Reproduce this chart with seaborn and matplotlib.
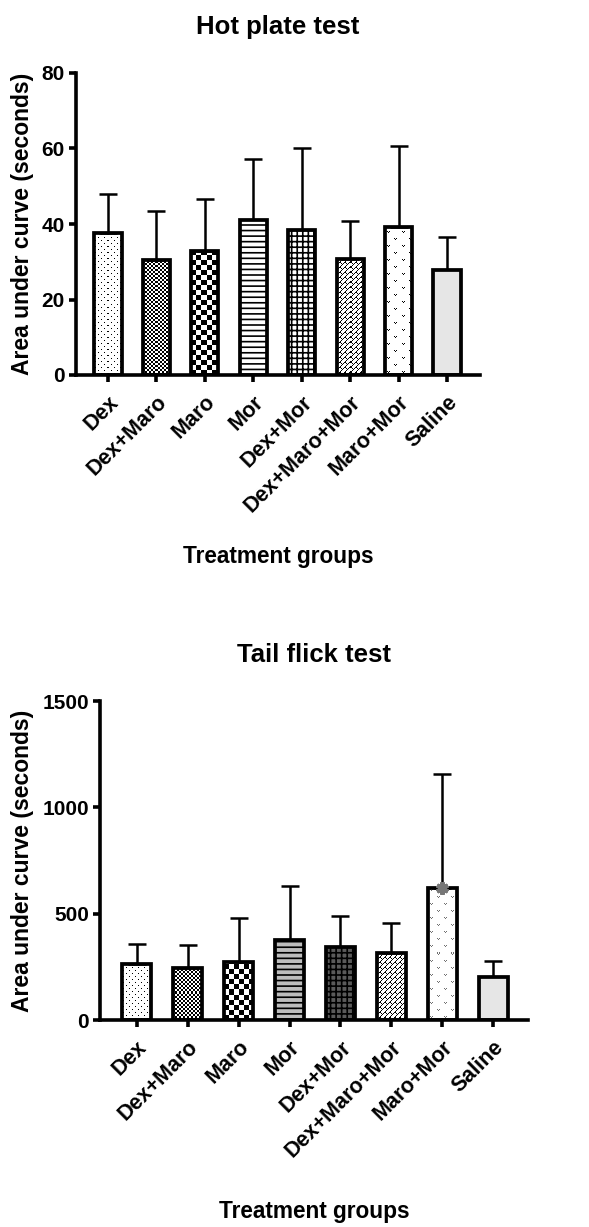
import numpy as np
import matplotlib
matplotlib.use('Agg')
import matplotlib.pyplot as plt
import matplotlib.colors as mcolors
import matplotlib.transforms as mtransforms
import seaborn as sns

# данные
groups = ['Dex', 'Dex+Maro', 'Maro', 'Mor', 'Dex+Mor', 'Dex+Maro+Mor', 'Maro+Mor', 'Saline']
hot_mean = [37.7, 30.4, 32.8, 41.0, 38.4, 30.6, 39.2, 27.9]
hot_sd = [10.3, 13.0, 13.7, 16.1, 21.7, 10.3, 21.4, 8.6]
tail_mean = [262, 246, 274, 376, 345, 313, 622, 204]
tail_sd = [95, 107, 207, 254, 145, 142, 535, 75]
hot_yticks = [0, 20, 40, 60, 80]
tail_yticks = [0, 500, 1000, 1500]

sns.set_style('ticks')
plt.rcParams['font.family'] = ['Liberation Sans', 'DejaVu Sans']
plt.rcParams['font.weight'] = 'bold'
plt.rcParams['axes.labelweight'] = 'bold'
plt.rcParams['axes.titleweight'] = 'bold'
for k in ['text.color', 'axes.labelcolor', 'xtick.color', 'ytick.color', 'axes.edgecolor']:
    plt.rcParams[k] = 'black'
plt.rcParams['hatch.linewidth'] = 1.2


# узоры-плитки (1 = цвет узора)
def checker(n):
    a = np.zeros((2 * n, 2 * n), int)
    a[:n, :n] = 1
    a[n:, n:] = 1
    return a


dots = np.zeros((6, 6), int)
dots[1, 1] = 1
dots[4, 4] = 1
vees = np.zeros((14, 14), int)
for r, c in [(2, 2), (9, 9)]:
    vees[r + 1, c] = 1
    vees[r + 1, c + 2] = 1
    vees[r, c + 1] = 1
# диагональная «кладка»
rr, cc = np.mgrid[0:10, 0:10]
bricks = (((rr - cc) % 5 == 0) | ((rr + cc) % 10 == 5 * (((rr - cc) % 10) // 5))).astype(int)

hot_style = [
    ('tile', dots, 'black', 'white'),
    ('tile', checker(2), 'black', 'white'),
    ('tile', checker(5), 'black', 'white'),
    ('hatch', '---', 'white'),
    ('hatch', '+++', 'white'),
    ('tile', bricks, 'black', 'white'),
    ('tile', vees, 'black', 'white'),
    ('hatch', '', '#e6e6e6'),
]
tail_style = [
    ('tile', dots, 'black', 'white'),
    ('tile', checker(2), 'black', 'white'),
    ('tile', checker(5), 'black', 'white'),
    ('hatch', '---', '#bdbdbd'),
    ('hatch', '+++', '#5a5a5a'),
    ('tile', bricks, 'black', 'white'),
    ('tile', vees, '#707070', 'white'),
    ('hatch', '', '#e6e6e6'),
]

fig = plt.figure(figsize=(5.89, 12.27), dpi=100)
W, H = 589, 1227
ax1 = fig.add_axes([76 / W, 1 - 375 / H, (480 - 76) / W, (375 - 73) / H])
ax2 = fig.add_axes([100 / W, 1 - 1020 / H, (528 - 100) / W, (1020 - 701) / H])

panels = [
    (ax1, hot_mean, hot_sd, hot_style, hot_yticks, 'Hot plate test', (-0.66, 7.68), 545),
    (ax2, tail_mean, tail_sd, tail_style, tail_yticks, 'Tail flick test', (-0.72, 7.68), 1200),
]

for ax, mean, sd, style, yt, title, xlim, xlab_y in panels:
    faces = ['white' if s[0] == 'tile' else s[2] for s in style]
    sns.barplot(x=groups, y=mean, hue=groups, palette=faces, legend=False,
                width=0.56, edgecolor='black', linewidth=2.7, saturation=1, ax=ax)
    for bar, s in zip(ax.patches, style):
        bar.set_zorder(1)
        if s[0] == 'hatch':
            bar.set_hatch(s[1])
        else:
            bar.set_facecolor('none')
    xs = [b.get_x() + b.get_width() / 2 for b in ax.patches]
    ax.errorbar(xs, mean, yerr=[np.zeros(len(sd)), sd], fmt='none', ecolor='black',
                elinewidth=1.8, capsize=6.5, capthick=1.8, zorder=0.8)
    ax.set_ylim(yt[0], yt[-1])
    ax.set_yticks(yt)
    ax.set_xlim(*xlim)
    sns.despine(ax=ax)
    for sp in ['left', 'bottom']:
        ax.spines[sp].set_linewidth(2.6)
    ax.tick_params(axis='both', width=2.6, length=5, direction='out')
    ax.tick_params(axis='y', labelsize=15, pad=3)
    ax.tick_params(axis='x', labelsize=15.5, pad=7)
    plt.setp(ax.get_xticklabels(), rotation=45, ha='right', rotation_mode='anchor')
    ax.set_title(title, fontsize=18.5, pad=28)
    ax.set_ylabel('Area under curve (seconds)', fontsize=16.5)
    ax.set_xlabel('Treatment groups', fontsize=16.3)
    ax.yaxis.set_label_coords(34 / W, 0.5,
                              transform=mtransforms.blended_transform_factory(fig.transFigure, ax.transAxes))
    ax.xaxis.set_label_coords(0.5, 1 - xlab_y / H,
                              transform=mtransforms.blended_transform_factory(ax.transAxes, fig.transFigure))

ax2.plot(xs[6], tail_mean[6], marker=(6, 2, 0), ms=9, mew=3, color='#777777', zorder=3)

# заливка узорами-плитками
fig.canvas.draw()
for ax, mean, sd, style, yt, title, xlim, xlab_y in panels:
    for bar, s in zip(ax.patches, style):
        if s[0] != 'tile':
            continue
        tile, fg, bg = s[1], mcolors.to_rgb(s[2]), mcolors.to_rgb(s[3])
        bb = bar.get_window_extent()
        nx, ny = max(int(round(bb.width)), 1), max(int(round(bb.height)), 1)
        img = np.tile(tile, (ny // tile.shape[0] + 1, nx // tile.shape[1] + 1))[:ny, :nx]
        rgb = np.where(img[..., None] == 1, np.array(fg), np.array(bg))
        x0, y0 = bar.get_x(), bar.get_y()
        im = ax.imshow(rgb, extent=(x0, x0 + bar.get_width(), y0, y0 + bar.get_height()),
                       origin='lower', interpolation='nearest', aspect='auto', zorder=0.5)
        im.set_clip_path(bar)
    ax.set_xlim(*xlim)
    ax.set_ylim(yt[0], yt[-1])

fig.savefig('out.png', dpi=100)
